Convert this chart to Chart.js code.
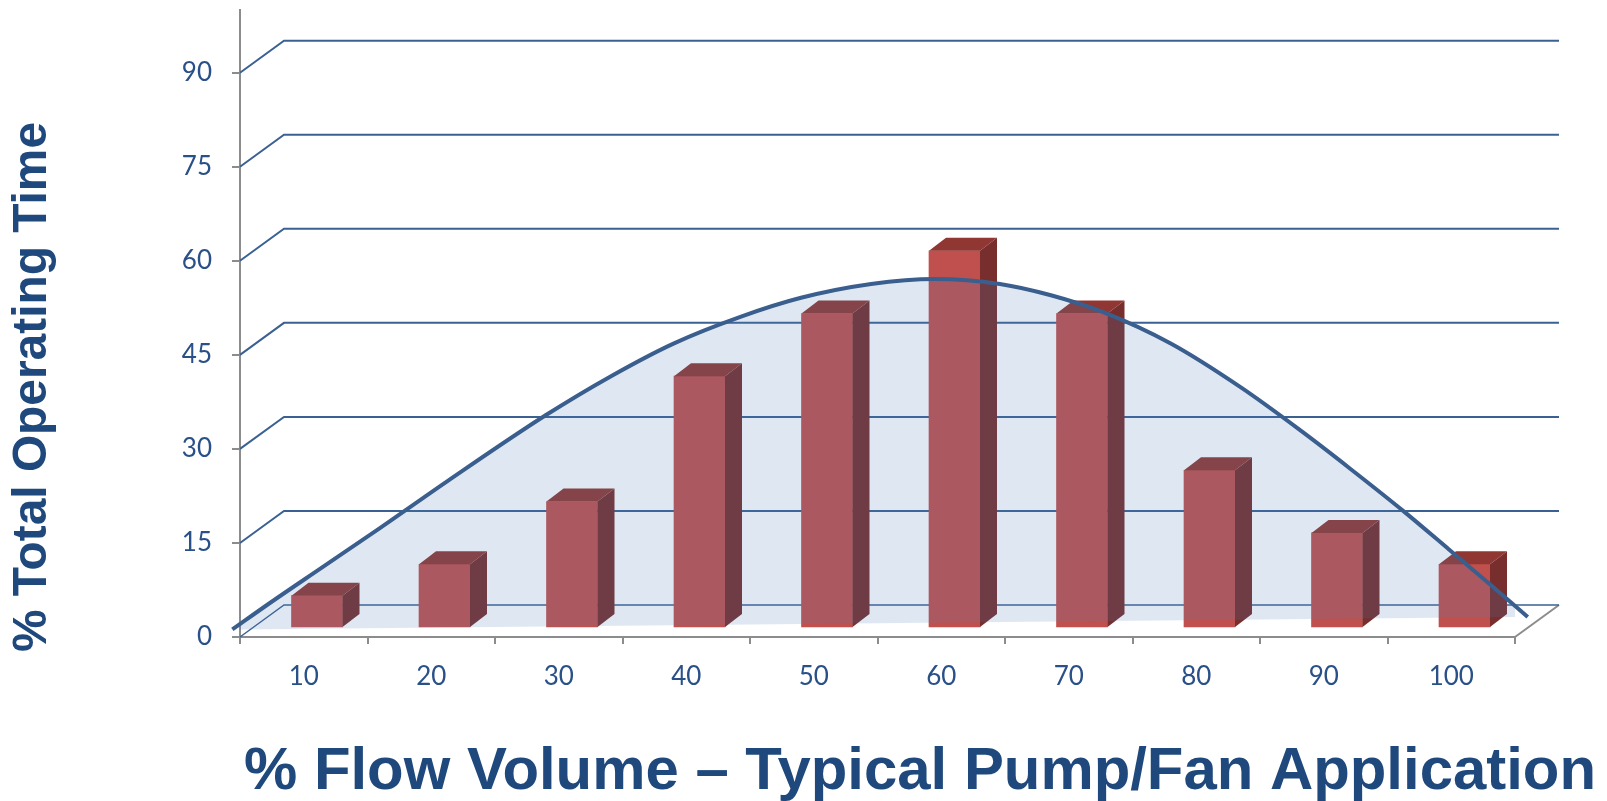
<!DOCTYPE html>
<html>
<head>
<meta charset="utf-8">
<script src="https://cdn.jsdelivr.net/npm/chart.js@4.4.1/dist/chart.umd.min.js"></script>
<style>
  html, body { margin: 0; padding: 0; background: #ffffff; }
  #wrap { width: 1607px; height: 801px; }
</style>
</head>
<body>
<div id="wrap"><canvas id="chart" width="1607" height="801"></canvas></div>
<script>
// Flow categories (% of design flow) and share of operating time at each
const flowLabels = ['10', '20', '30', '40', '50', '60', '70', '80', '90', '100'];
const flowSteps = [10, 20, 30, 40, 50, 60, 70, 80, 90, 100];
const operatingTime = [5, 10, 20, 40, 50, 60, 50, 25, 15, 10];

// Typical duty curve drawn over the bars: flow % and time % pairs
const curveFlow = [4.4, 7.4, 11.3, 16.0, 21.3, 29.0, 34.1, 39.0, 44.3, 49.0, 54.5, 59.5,
                   64.6, 68.6, 72.7, 78.0, 83.5, 88.2, 92.1, 96.3, 99.8, 103.1, 106.0];
const curveTime = [1.2, 5.5, 10.9, 17.4, 24.9, 35.4, 41.6, 46.8, 51.1, 54.1, 56.3, 57.1,
                   56.3, 54.5, 51.8, 46.8, 39.8, 32.9, 26.8, 20.0, 14.0, 8.3, 3.2];

// Value axis
const yMin = 0, yMax = 100, yStep = 15;

const X_TITLE = '% Flow Volume \u2013 Typical Pump/Fan Application';
const Y_TITLE = '% Total Operating Time';

// Perspective offsets for the back wall and the bar blocks
const WALL_DX = 44, WALL_DY = 32;
const BAR_DX = 17, BAR_DY = 13;
const BAR_SHIFT_X = 13.25, BAR_SHIFT_Y = 10;
const BAR_WIDTH = 51;

const GRID_BLUE = '#3b6193';
const AXIS_GREY = '#8c8c8c';
const TEXT_BLUE = '#2a5088';
const TITLE_BLUE = '#1f497d';

const barPoints = flowSteps.map((f, i) => ({ x: f, y: operatingTime[i] }));
const curvePoints = curveFlow.map((f, i) => ({ x: f, y: curveTime[i] }));
const curveBase = [curvePoints[0], curvePoints[curvePoints.length - 1]];

const depthPlugin = {
  id: 'depth3d',
  beforeDatasetsDraw(chart) {
    const { ctx, chartArea: a, scales: { y } } = chart;
    ctx.save();
    ctx.lineCap = 'butt';
    // right edge of the floor
    ctx.strokeStyle = AXIS_GREY;
    ctx.lineWidth = 2;
    ctx.beginPath();
    ctx.moveTo(a.right, a.bottom);
    ctx.lineTo(a.right + WALL_DX, a.bottom - WALL_DY);
    ctx.stroke();
    // gridlines running back onto the wall
    ctx.strokeStyle = GRID_BLUE;
    y.ticks.forEach(t => {
      const py = y.getPixelForValue(t.value);
      ctx.lineWidth = t.value === 0 ? 1.5 : 2;
      ctx.beginPath();
      ctx.moveTo(a.left, py);
      ctx.lineTo(a.left + WALL_DX, py - WALL_DY);
      ctx.lineTo(a.right + WALL_DX, py - WALL_DY);
      ctx.stroke();
    });
    ctx.restore();
  },
  afterDatasetDraw(chart, args) {
    if (args.index !== 0) return;
    const ctx = chart.ctx;
    ctx.save();
    args.meta.data.forEach(bar => {
      const { x, y, base, width } = bar.getProps(['x', 'y', 'base', 'width'], true);
      const l = x - width / 2, r = x + width / 2;
      ctx.fillStyle = '#913733';
      ctx.beginPath();
      ctx.moveTo(l, y);
      ctx.lineTo(l + BAR_DX, y - BAR_DY);
      ctx.lineTo(r + BAR_DX, y - BAR_DY);
      ctx.lineTo(r, y);
      ctx.closePath();
      ctx.fill();
      ctx.fillStyle = '#772e2c';
      ctx.beginPath();
      ctx.moveTo(r, y);
      ctx.lineTo(r + BAR_DX, y - BAR_DY);
      ctx.lineTo(r + BAR_DX, base - BAR_DY);
      ctx.lineTo(r, base);
      ctx.closePath();
      ctx.fill();
    });
    ctx.restore();
  },
  afterDraw(chart) {
    const ctx = chart.ctx;
    ctx.save();
    ctx.fillStyle = TITLE_BLUE;
    ctx.font = 'bold 60px "Liberation Sans", Arial, sans-serif';
    ctx.textAlign = 'left';
    ctx.textBaseline = 'alphabetic';
    ctx.fillText(X_TITLE, 244, 789, 1352);
    ctx.translate(46, 387);
    ctx.rotate(-Math.PI / 2);
    ctx.font = 'bold 48px "Liberation Sans", Arial, sans-serif';
    ctx.textAlign = 'center';
    ctx.fillText(Y_TITLE, 0, 0, 530);
    ctx.restore();
  }
};

const tickFont = { family: 'Lato, "Open Sans", sans-serif', size: 26 };

new Chart(document.getElementById('chart'), {
  type: 'bar',
  data: {
    labels: flowLabels,
    datasets: [
      {
        type: 'bar',
        data: barPoints,
        xAxisID: 'xBar',
        yAxisID: 'yBar',
        backgroundColor: '#c0504d',
        borderWidth: 0,
        barThickness: BAR_WIDTH,
        grouped: false,
        order: 1
      },
      {
        type: 'line',
        data: curvePoints,
        xAxisID: 'xFlow',
        yAxisID: 'y',
        borderColor: '#3a5f8e',
        borderWidth: 4,
        backgroundColor: 'rgba(79, 125, 185, 0.18)',
        fill: 2,
        cubicInterpolationMode: 'monotone',
        pointRadius: 0,
        clip: false,
        order: 0
      },
      {
        type: 'line',
        data: curveBase,
        xAxisID: 'xFlow',
        yAxisID: 'y',
        borderColor: 'rgba(0,0,0,0)',
        borderWidth: 0,
        pointRadius: 0,
        fill: false,
        order: 2
      }
    ]
  },
  options: {
    responsive: false,
    devicePixelRatio: 1,
    animation: false,
    events: [],
    layout: { padding: { left: 0, right: 92, top: 10, bottom: 0 } },
    plugins: { legend: { display: false }, tooltip: { enabled: false } },
    scales: {
      x: {
        type: 'category',
        position: 'bottom',
        offset: true,
        afterFit: s => { s.height = 164; s.paddingLeft = 0; s.paddingRight = 0; },
        border: { display: true, color: AXIS_GREY, width: 2 },
        grid: { offset: true, drawOnChartArea: false, drawTicks: true, tickLength: 7, color: AXIS_GREY, lineWidth: 2 },
        ticks: { color: TEXT_BLUE, font: tickFont, padding: 17, maxRotation: 0 }
      },
      y: {
        type: 'linear',
        position: 'left',
        min: yMin,
        max: yMax,
        afterFit: s => { s.width = 240; s.paddingTop = 0; s.paddingBottom = 0; },
        afterBuildTicks: s => { s.ticks = s.ticks.filter(t => t.value % yStep === 0); },
        border: { display: true, color: AXIS_GREY, width: 2 },
        grid: { drawOnChartArea: false, drawTicks: true, tickLength: 8, color: AXIS_GREY, lineWidth: 2 },
        ticks: { stepSize: yStep, color: TEXT_BLUE, font: tickFont, padding: 20 }
      },
      xFlow: { type: 'linear', position: 'bottom', display: false, offset: false, min: 5, max: 105 },
      xBar: { type: 'linear', position: 'bottom', display: false, offset: false,
              min: 5 - BAR_SHIFT_X / 12.75, max: 105 - BAR_SHIFT_X / 12.75 },
      yBar: { type: 'linear', display: false, position: 'left',
              min: yMin - BAR_SHIFT_Y / 6.27, max: yMax - BAR_SHIFT_Y / 6.27 }
    }
  },
  plugins: [depthPlugin]
});
</script>
</body>
</html>
